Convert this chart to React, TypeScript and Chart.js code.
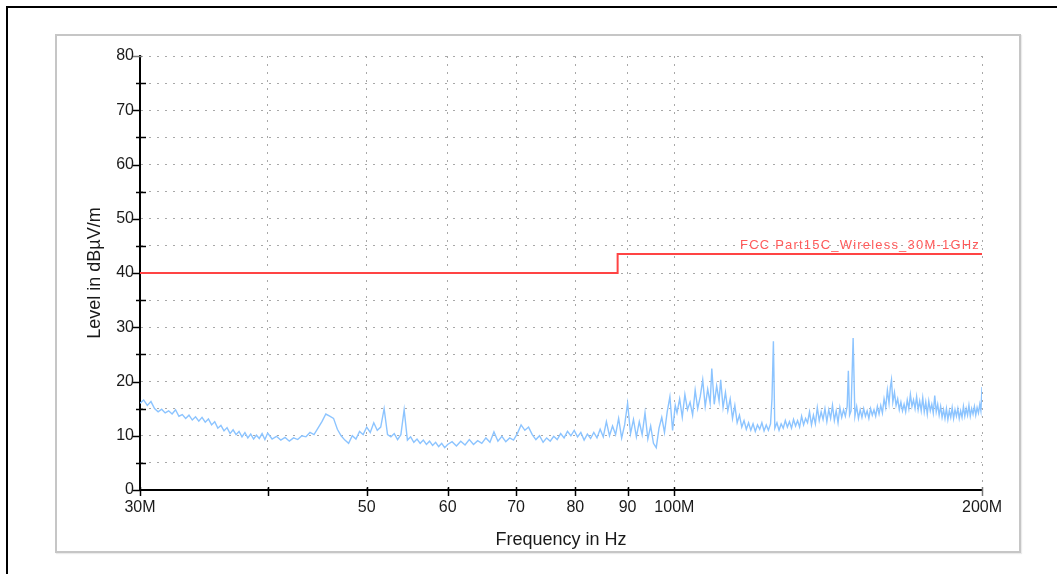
import React, { useEffect, useRef } from "react";
import { Chart, registerables } from "chart.js";

Chart.register(...registerables);

// ---- data (MHz / dBµV/m) ----
const traceFreq = [
  30, 30.25, 30.5, 30.75, 31, 31.25, 31.5, 31.75, 32, 32.25, 32.5, 32.75, 33, 33.25, 33.5, 33.75, 34, 34.25, 34.5, 34.75,
  35, 35.25, 35.5, 35.75, 36, 36.25, 36.5, 36.75, 37, 37.25, 37.5, 37.75, 38, 38.25, 38.5, 38.75, 39, 39.25, 39.5, 39.75, 40,
  40.4, 40.8, 41.2, 41.6, 42.0, 42.4, 42.8, 43.2, 43.6, 44.0,
  44.4, 44.8, 45.2, 45.6, 46.0, 46.4, 46.8, 47.2, 47.6, 48.0,
  48.4, 48.8, 49.2, 49.6, 50.0, 50.4, 50.8, 51.2, 51.6, 52.0,
  52.4, 52.8, 53.2, 53.6, 54.0, 54.4, 54.8, 55.2, 55.6, 56.0,
  56.4, 56.8, 57.2, 57.6, 58.0, 58.4, 58.8, 59.2, 59.6, 60.0,
  60.6, 61.2, 61.8, 62.4, 63.0, 63.6, 64.2, 64.8, 65.4, 66.0,
  66.6, 67.2, 67.8, 68.4, 69.0, 69.6, 70.2, 70.8, 71.4, 72.0,
  72.6, 73.2, 73.8, 74.4, 75.0, 75.6, 76.2, 76.8, 77.4, 78.0,
  78.6, 79.2, 79.8, 80.4, 81.0, 81.6, 82.2, 82.8, 83.4, 84.0,
  84.6, 85.2, 85.8, 86.4, 87.0, 87.6, 88.2, 88.8, 89.4, 90.0,
  90.6, 91.2, 91.8, 92.4, 93.0, 93.6, 94.2, 94.8, 95.4, 96.0,
  96.6, 97.2, 97.8, 98.4, 99.0, 99.6, 100.2,
  100.6, 101.2, 101.8, 102.4, 103.0, 103.6, 104.2, 104.8, 105.4, 106.0,
  106.6, 107.2, 107.8, 108.4, 108.8, 109.4, 110.0, 110.6, 111.0, 111.6,
  112.2, 112.8, 113.4, 114.0, 114.6, 115.2, 115.8, 116.4, 117.0, 117.6,
  118.2, 118.8, 119.4, 120.0, 120.6, 121.2, 121.8, 122.4, 123.0, 123.6,
  124.2, 124.6, 125.0, 125.4, 126.0, 126.6, 127.2, 127.8, 128.4, 129.0,
  129.6, 130.2, 130.8, 131.4, 132.0, 132.6, 133.2, 133.8, 134.4, 135.0,
  135.6, 136.2, 136.8, 137.4, 138.0, 138.6, 139.2, 139.8, 140.4, 141.0,
  141.6, 142.2, 142.8, 143.4, 144.0, 144.6, 145.2, 145.8, 146.4, 147.0,
  147.6, 148.0, 148.4, 148.9, 149.6, 150.2, 150.8, 151.4, 152.0, 152.6,
  153.2, 153.8, 154.4, 155.0, 155.6, 156.2, 156.8, 157.4, 158.0, 158.6,
  159.2, 159.8, 160.4, 161.0, 161.6, 162.2, 162.7, 163.1, 163.6, 164.2,
  164.8, 165.4, 166.0, 166.6, 167.2, 167.8, 168.4, 169.0, 169.6, 170.2,
  170.8, 171.4, 172.0, 172.6, 173.2, 173.8, 174.4, 175.0, 175.6, 176.2,
  176.8, 177.4, 178.0, 178.6, 179.2, 179.8, 180.4, 181.0, 181.6, 182.2,
  182.8, 183.4, 184.0, 184.6, 185.2, 185.8, 186.4, 187.0, 187.6, 188.2,
  188.8, 189.4, 190.0, 190.6, 191.2, 191.8, 192.4, 193.0, 193.6, 194.2,
  194.8, 195.4, 196.0, 196.6, 197.2, 197.8, 198.4, 199.0, 199.5, 200.0,
];

const traceLevel = [
  16.0, 16.6, 15.6, 16.3, 15.0, 14.4, 14.9, 14.2, 14.6, 14.0, 14.8, 13.6, 13.9, 13.2, 13.8, 12.9, 13.5, 12.7, 13.4, 12.5,
  13.1, 12.0, 12.6, 11.4, 11.9, 10.9, 11.5, 10.4, 11.1, 10.2, 10.8, 9.8, 10.6, 9.6, 10.3, 9.4, 10.1, 9.5, 10.4, 9.3, 10.5,
  9.4, 9.9, 9.2, 9.7, 9.0, 9.6, 9.3, 10.0, 9.8, 10.6,
  10.2, 11.4, 12.6, 14.0, 13.6, 13.2, 11.2, 10.0, 9.2, 8.6,
  10.0, 9.4, 10.8, 10.2, 11.6, 10.6, 12.4, 11.0, 11.6, 15.0,
  10.2, 9.8, 10.4, 9.3, 10.2, 14.8, 9.2, 9.8, 8.8, 9.4,
  8.6, 9.2, 8.4, 9.0, 8.2, 8.8, 8.0, 8.6, 7.8, 8.4,
  8.9, 8.1, 9.0, 8.3, 9.3, 8.4, 9.1, 8.6, 9.6, 8.8,
  10.7, 9.0, 9.9, 8.9, 9.6, 9.2, 10.4, 12.0, 11.0, 11.6,
  10.2, 9.3, 10.0, 8.8, 9.6, 9.0, 9.9, 9.3, 10.4, 9.6,
  10.8, 10.0, 11.0, 9.8, 10.6, 9.2, 10.3, 9.5, 10.6, 9.6,
  11.2, 9.8, 12.6, 10.0, 11.8, 10.2, 13.2, 9.6, 12.0, 16.0,
  10.4, 13.0, 9.8, 12.6, 10.2, 14.2, 9.4, 11.8, 8.6, 7.8,
  11.4, 13.4, 10.6, 14.4, 17.2, 11.0, 15.6,
  14.2, 16.8, 13.4, 17.6, 14.8, 16.2, 13.8, 18.4, 15.0, 17.2,
  20.3, 15.4, 18.6, 16.0, 22.4, 15.8, 19.2, 16.4, 20.3, 15.2,
  18.0, 14.6, 16.8, 13.2, 15.6, 12.4, 13.8, 11.6, 12.8, 11.2,
  12.4, 11.0, 12.2, 10.8, 12.0, 11.2, 12.4, 10.9, 12.0, 11.0,
  12.2, 16.8, 27.4, 11.4, 12.4, 11.0, 12.2, 11.4, 12.8, 11.6,
  12.6, 11.4, 13.0, 11.8, 12.8, 11.6, 13.6, 12.0, 13.2, 12.4,
  14.4, 12.0, 13.8, 12.2, 15.2, 12.8, 14.4, 13.0, 15.0, 12.6,
  14.8, 13.2, 15.6, 12.8, 14.6, 12.4, 15.2, 13.4, 14.8, 13.6,
  15.4, 22.0, 13.8, 14.6, 28.0, 13.6, 15.4, 13.2, 14.8, 13.4,
  15.0, 13.6, 14.6, 13.2, 15.0, 13.8, 14.8, 13.6, 15.4, 14.0,
  15.6, 14.2, 16.8, 15.2, 18.4, 16.0, 19.0, 20.3, 16.2, 18.0,
  15.6, 16.8, 14.8, 16.2, 14.6, 15.8, 14.4, 16.6, 15.0, 17.6,
  15.4, 16.6, 15.0, 17.2, 14.8, 16.4, 14.6, 17.0, 14.4, 16.2,
  14.0, 16.4, 14.6, 15.8, 14.2, 17.4, 14.4, 15.8, 13.8, 15.4,
  13.4, 14.8, 13.2, 15.0, 13.0, 14.6, 13.4, 15.2, 13.2, 14.8,
  13.6, 15.0, 13.2, 14.6, 13.4, 15.4, 13.6, 15.0, 13.8, 15.6,
  13.6, 15.0, 14.0, 15.4, 13.8, 15.2, 14.2, 15.8, 14.6, 19.0,
];

const limitFreq = [30, 88, 88, 200];
const limitLevel = [40, 40, 43.5, 43.5];
const limitName = "FCC Part15C_Wireless_30M-1GHz";

const xTickValues = [30, 40, 50, 60, 70, 80, 90, 100, 200];
const xTickLabels = ["30M", "", "50", "60", "70", "80", "90", "100M", "200M"];
const yMin = 0;
const yMax = 80;
const yStep = 5;

const xTitle = "Frequency in Hz";
const yTitle = "Level in dBµV/m";

const FONT = "'Liberation Sans', Arial, Helvetica, sans-serif";
const TEXT = "#1a1a1a";

const tickPlugin = {
  id: "emcTicks",
  afterDraw(chart: any) {
    const { ctx, chartArea, scales } = chart;
    const xs = scales.x;
    const ys = scales.y;
    ctx.save();
    ctx.setLineDash([]);
    ctx.lineWidth = 1.5;
    ctx.strokeStyle = "#000";
    ys.ticks.forEach((t: any) => {
      const py = Math.round(ys.getPixelForValue(t.value)) + 0.5;
      ctx.beginPath();
      if (t.value % 10 === 0) {
        ctx.strokeStyle = t.value === yMax ? "#777" : "#000";
        ctx.moveTo(chartArea.left - 7, py);
        ctx.lineTo(chartArea.left + (t.value === yMax ? 2 : 0), py);
      } else {
        ctx.strokeStyle = "#000";
        ctx.moveTo(chartArea.left - 4, py);
        ctx.lineTo(chartArea.left + 6, py);
      }
      ctx.stroke();
    });
    xs.ticks.forEach((t: any) => {
      const px = Math.round(xs.getPixelForValue(t.value)) + 0.5;
      ctx.beginPath();
      ctx.strokeStyle = t.value === xTickValues[xTickValues.length - 1] ? "#777" : "#000";
      ctx.moveTo(px, chartArea.bottom - 3);
      ctx.lineTo(px, chartArea.bottom + 6);
      ctx.stroke();
    });
    const lx = xs.getPixelForValue(limitFreq[limitFreq.length - 1]) - 2;
    const ly = ys.getPixelForValue(limitLevel[limitLevel.length - 1]) - 5;
    ctx.font = `13px ${FONT}`;
    (ctx as any).letterSpacing = "1.2px";
    ctx.fillStyle = "#ff5a5a";
    ctx.textAlign = "right";
    ctx.textBaseline = "alphabetic";
    ctx.fillText(limitName, lx, ly);
    ctx.restore();
  },
};

export default function App() {
  const canvasRef = useRef<HTMLCanvasElement | null>(null);

  useEffect(() => {
    const canvas = canvasRef.current;
    if (!canvas) return;
    const trace = traceFreq.map((f, i) => ({ x: f, y: traceLevel[i] }));
    const limit = limitFreq.map((f, i) => ({ x: f, y: limitLevel[i] }));

    const chart = new Chart(canvas, {
      type: "line",
      data: {
        datasets: [
          {
            label: limitName,
            data: limit,
            borderColor: "#ff4444",
            borderWidth: 2,
            pointRadius: 0,
            tension: 0,
            order: 0,
          },
          {
            label: "Level",
            data: trace,
            borderColor: "rgba(140,196,255,1)",
            borderWidth: 1.4,
            pointRadius: 0,
            tension: 0,
            order: 1,
          },
        ],
      },
      options: {
        animation: false,
        responsive: false,
        devicePixelRatio: 1,
        layout: { padding: { left: 0, top: 56, right: 75, bottom: 0 } },
        plugins: {
          legend: { display: false },
          tooltip: { enabled: false },
          title: { display: false },
        },
        scales: {
          x: {
            type: "logarithmic",
            min: 30,
            max: 200,
            afterBuildTicks: (scale: any) => {
              scale.ticks = xTickValues.map((v) => ({ value: v }));
            },
            afterFit: (scale: any) => {
              scale.height = 84;
            },
            ticks: {
              autoSkip: false,
              maxRotation: 0,
              minRotation: 0,
              padding: 8,
              color: TEXT,
              font: { family: FONT, size: 16 },
              callback: (value: any) => {
                const idx = xTickValues.indexOf(Number(value));
                return idx >= 0 ? xTickLabels[idx] : "";
              },
            },
            grid: {
              drawTicks: false,
              color: "#a8a8a8",
              lineWidth: 1,
            },
            border: { display: true, color: "#000", width: 2, dash: [2, 6] },
            title: {
              display: true,
              text: xTitle,
              color: TEXT,
              font: { family: FONT, size: 18 },
              padding: { top: 0, bottom: 23 },
            },
          },
          y: {
            type: "linear",
            min: yMin,
            max: yMax,
            afterFit: (scale: any) => {
              scale.width = 140;
            },
            ticks: {
              stepSize: yStep,
              autoSkip: false,
              padding: 6,
              color: TEXT,
              font: { family: FONT, size: 16 },
              callback: (value: any) => (Number(value) % 10 === 0 ? String(value) : ""),
            },
            grid: {
              drawTicks: false,
              color: "#a8a8a8",
              lineWidth: 1,
            },
            border: { display: true, color: "#000", width: 2, dash: [2, 6] },
            title: {
              display: true,
              text: yTitle,
              color: TEXT,
              font: { family: FONT, size: 18 },
              padding: { top: 84, bottom: 0 },
            },
          },
        },
      },
      plugins: [tickPlugin],
    } as any);

    return () => chart.destroy();
  }, []);

  return (
    <div
      style={{
        position: "absolute",
        left: 0,
        top: 0,
        width: 1057,
        height: 574,
        overflow: "hidden",
        background: "#fff",
      }}
    >
      <div
        style={{
          position: "absolute",
          left: 6,
          top: 6,
          width: 1070,
          height: 600,
          border: "2px solid #000",
          boxSizing: "border-box",
        }}
      />
      <div
        style={{
          position: "absolute",
          left: 55,
          top: 34,
          width: 966,
          height: 519,
          border: "2px solid #c6c6c6",
          boxSizing: "border-box",
          boxShadow: "1px 1px 1px rgba(0,0,0,0.08)",
        }}
      />
      <canvas
        ref={canvasRef}
        width={1057}
        height={574}
        style={{ position: "absolute", left: 0, top: 0, width: 1057, height: 574 }}
      />
    </div>
  );
}
